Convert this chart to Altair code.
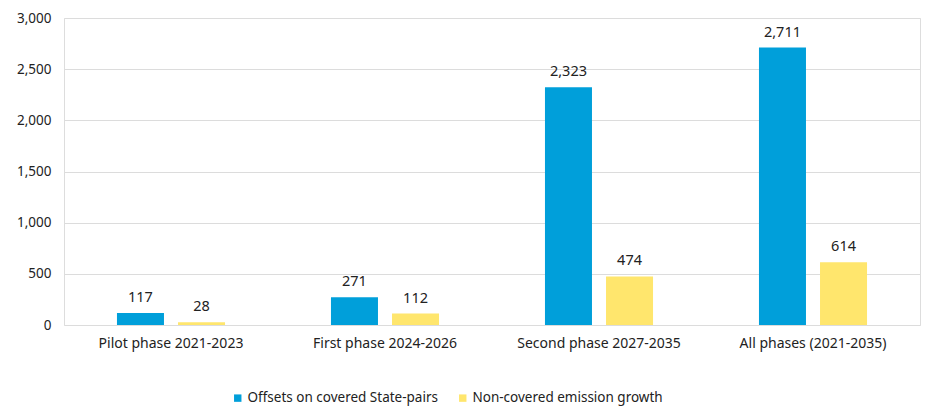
import altair as alt
import pandas as pd

categories = ["Pilot phase 2021-2023", "First phase 2024-2026", "Second phase 2027-2035", "All phases (2021-2035)"]
series = ["Offsets on covered State-pairs", "Non-covered emission growth"]
offsets = [117, 271, 2323, 2711]
noncovered = [28, 112, 474, 614]
colors = ["#009FDA", "#FFE66D"]

rows = []
for c, a, b in zip(categories, offsets, noncovered):
    rows.append({"cat": c, "series": series[0], "value": a})
    rows.append({"cat": c, "series": series[1], "value": b})
df = pd.DataFrame(rows)

FONT = "Noto Sans"

x = alt.X("cat:N", sort=categories, title=None,
          scale=alt.Scale(paddingInner=0.495, paddingOuter=0.2475),
          axis=alt.Axis(labelAngle=0, ticks=False, domain=False, labelPadding=11,
                        labelFontSize=14, labelColor="#222", labelFont=FONT, labelLimit=0))
xo = alt.XOffset("series:N", sort=series, scale=alt.Scale(paddingInner=0.23, paddingOuter=0))
y = alt.Y("value:Q", title=None,
          scale=alt.Scale(domain=[0, 3000], nice=False),
          axis=alt.Axis(values=[0, 500, 1000, 1500, 2000, 2500, 3000], format=",.0f",
                        ticks=False, domain=False, labelPadding=13, labelFontSize=13.5,
                        labelColor="#222", labelFont=FONT, gridColor="#dcdcdc"))

bars = alt.Chart(df).mark_bar().encode(
    x=x, xOffset=xo, y=y,
    color=alt.Color("series:N", sort=series,
                    scale=alt.Scale(domain=series, range=colors),
                    legend=alt.Legend(title=None, orient="none", direction="horizontal",
                                      legendX=167, legendY=373, symbolType="square",
                                      symbolSize=55, labelFontSize=13.5, labelFont=FONT,
                                      labelColor="#222", columnPadding=18, symbolOffset=0,
                                      labelOffset=3, labelLimit=0))
)

text = alt.Chart(df).mark_text(baseline="bottom", dy=-8, fontSize=14.5, font=FONT, color="#222").encode(
    x=x, xOffset=xo, y=y, text=alt.Text("value:Q", format=",")
)

chart = (bars + text).properties(width=856, height=307).configure_view(
    stroke="#d0d0d0", strokeWidth=1
).configure(padding={"left": 8, "top": 3, "right": 2, "bottom": 5})

chart.save("out.html", embed_options={"renderer": "svg", "actions": False})
